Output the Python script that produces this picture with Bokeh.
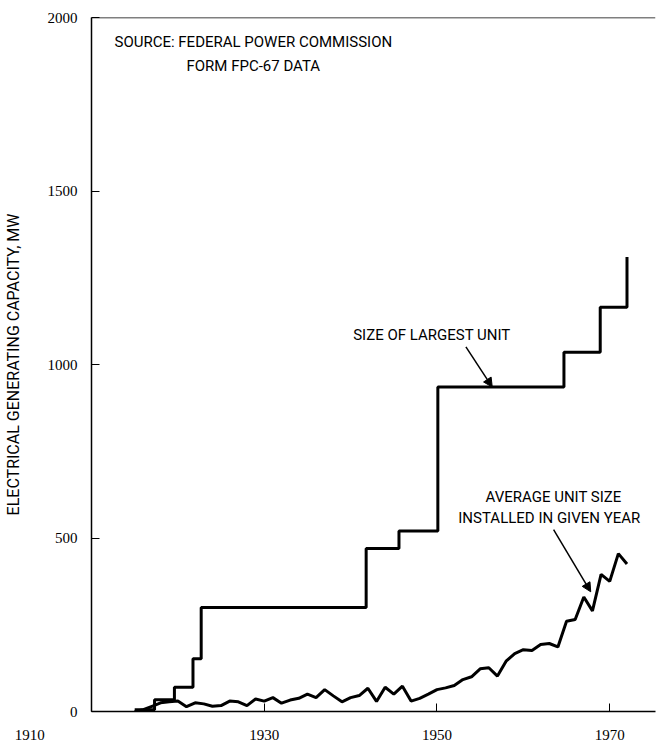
from bokeh.plotting import figure
from bokeh.models import Range1d, FixedTicker, Label, Arrow, NormalHead, Span
from bokeh.embed import file_html
from bokeh.resources import INLINE

# Size of largest unit (step changes: year, MW)
largest_years = [1915, 1917.3, 1919.6, 1921.75, 1922.7, 1941.8, 1945.6, 1950.1, 1964.7, 1968.9, 1972.0]
largest_mw = [5, 34, 70, 152, 300, 470, 520, 935, 1035, 1165, 1310]

# Average unit size installed in given year
avg_years = list(range(1915, 1973))
avg_mw = [0, 5, 15, 25, 28, 30, 14, 25, 22, 15,
          17, 30, 28, 17, 36, 30, 40, 24, 33, 38,
          50, 40, 63, 45, 28, 40, 46, 67, 29, 70,
          50, 73, 30, 38, 50, 63, 68, 75, 92, 100,
          123, 126, 102, 145, 167, 178, 176, 193, 196, 186,
          260, 265, 330, 290, 395, 375, 455, 425]

x_ticks = [1910, 1930, 1950, 1970]
y_ticks = [0, 500, 1000, 1500, 2000]

SANS = "Roboto"
SERIF = "Liberation Serif"
NBSP = "\u00a0"

p = figure(width=657, height=745, output_backend="svg", toolbar_location=None,
           x_range=Range1d(1910, 1975.3), y_range=Range1d(0, 2000),
           min_border_left=90, min_border_right=2, min_border_top=17, min_border_bottom=33)
p.outline_line_color = None
p.xgrid.visible = False
p.ygrid.visible = False
p.background_fill_color = "white"

p.step(largest_years, largest_mw, mode="after", line_color="black", line_width=3)
p.line(avg_years, avg_mw, line_color="black", line_width=3)

# top border
p.add_layout(Span(location=2000, dimension="width", line_color="black", line_width=1.5))

# axes
p.xaxis.ticker = FixedTicker(ticks=x_ticks)
# the 1910 label sits to the left of the origin in the original
p.xaxis.major_label_overrides = {1910: "1910" + NBSP * 33}
p.xaxis.major_tick_in = 8
p.xaxis.major_tick_out = 0
p.xaxis.minor_tick_line_color = None
p.xaxis.axis_line_width = 1.5
p.xaxis.major_label_text_font = SERIF
p.xaxis.major_label_text_font_size = "15px"
p.xaxis.major_label_text_color = "black"
p.xaxis.major_label_standoff = 15

p.yaxis.ticker = FixedTicker(ticks=y_ticks)
p.yaxis.major_tick_in = 8
p.yaxis.major_tick_out = 0
p.yaxis.minor_tick_line_color = None
p.yaxis.axis_line_width = 1.5
p.yaxis.major_label_text_font = SERIF
p.yaxis.major_label_text_font_size = "15px"
p.yaxis.major_label_text_color = "black"
p.yaxis.major_label_standoff = 14
p.yaxis.axis_label = "ELECTRICAL GENERATING CAPACITY, MW"
p.yaxis.axis_label_text_font = SANS
p.yaxis.axis_label_text_font_size = "16px"
p.yaxis.axis_label_text_font_style = "normal"
p.yaxis.axis_label_text_color = "black"
p.yaxis.axis_label_standoff = 22

# source note
p.add_layout(Label(x=1912.66, y=1928, text="SOURCE: FEDERAL POWER COMMISSION",
                   text_font=SANS, text_font_size="15px", text_color="black",
                   text_align="left", text_baseline="middle"))
p.add_layout(Label(x=1921.0, y=1859, text="FORM FPC-67 DATA",
                   text_font=SANS, text_font_size="15px", text_color="black",
                   text_align="left", text_baseline="middle"))

# series annotations
p.add_layout(Label(x=1940.3, y=1085, text="SIZE OF LARGEST UNIT",
                   text_font=SANS, text_font_size="15px", text_color="black",
                   text_align="left", text_baseline="middle"))
p.add_layout(Arrow(x_start=1953.35, y_start=1051, x_end=1956.4, y_end=935,
                   line_width=1.5, line_color="black",
                   end=NormalHead(size=9, fill_color="black", line_color="black")))

p.add_layout(Label(x=1963.5, y=617, text="AVERAGE UNIT SIZE",
                   text_font=SANS, text_font_size="15px", text_color="black",
                   text_align="center", text_baseline="middle"))
p.add_layout(Label(x=1963.0, y=558, text="INSTALLED IN GIVEN YEAR",
                   text_font=SANS, text_font_size="15px", text_color="black",
                   text_align="center", text_baseline="middle"))
p.add_layout(Arrow(x_start=1963.5, y_start=524, x_end=1967.8, y_end=345,
                   line_width=1.5, line_color="black",
                   end=NormalHead(size=9, fill_color="black", line_color="black")))

open("out.html", "w").write(file_html(p, INLINE))
